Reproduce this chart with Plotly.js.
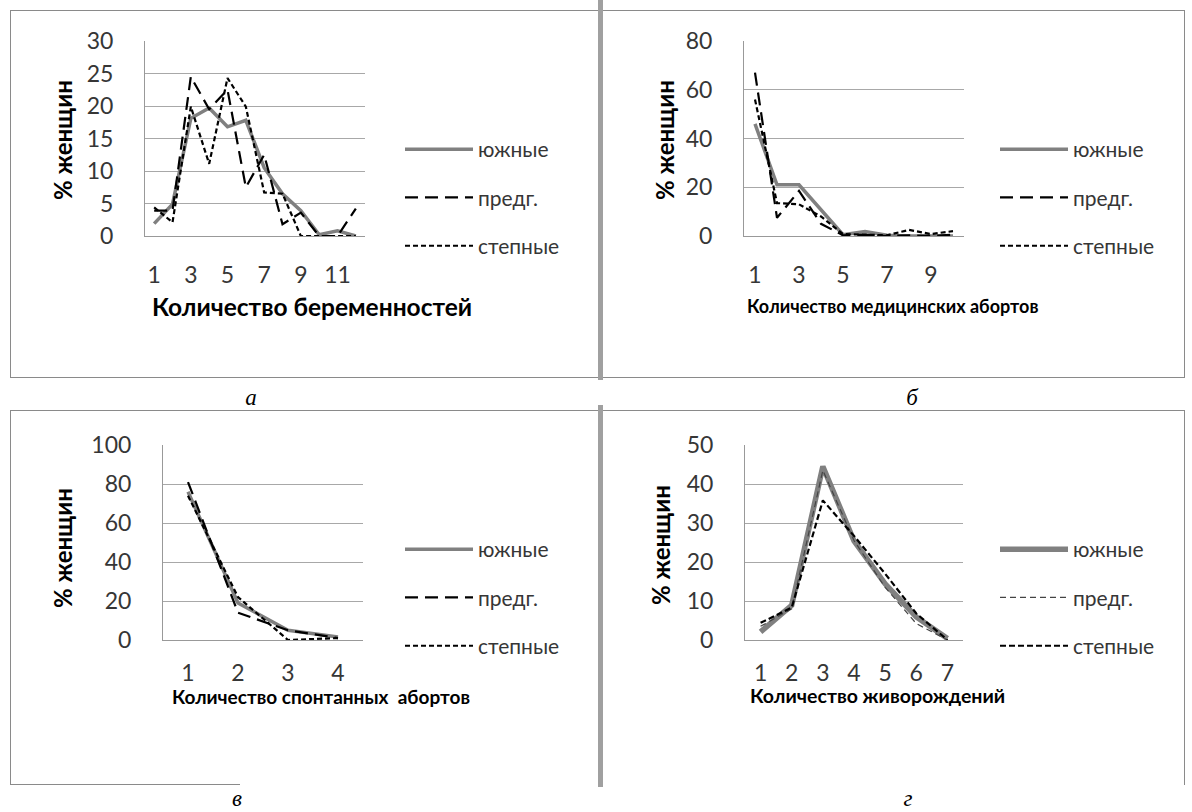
<!DOCTYPE html>
<html><head><meta charset="utf-8">
<script src="https://cdn.plot.ly/plotly-3.0.1.min.js"></script>
<style>
body{margin:0;background:#fff;width:1192px;height:812px;position:relative;overflow:hidden}
.panel{position:absolute}
.ln{position:absolute;background:#8a8a8a}
.lab{position:absolute;font-family:'Liberation Serif',serif;font-style:italic;font-size:23px;line-height:23px;transform:translate(-50%,-50%);color:#000}
</style></head><body>
<div class="ln" style="left:10px;top:10px;width:1px;height:368px"></div>
<div class="ln" style="left:10px;top:10px;width:1175px;height:1px"></div>
<div class="ln" style="left:10px;top:377px;width:1175px;height:1px"></div>
<div class="ln" style="left:1184px;top:10px;width:1px;height:368px"></div>
<div class="ln" style="left:598px;top:0px;width:5px;height:380px;background:#a0a0a0"></div>
<div class="ln" style="left:10px;top:410px;width:1px;height:375px"></div>
<div class="ln" style="left:10px;top:410px;width:1175px;height:1px"></div>
<div class="ln" style="left:10px;top:784px;width:230px;height:1px"></div>
<div class="ln" style="left:1184px;top:410px;width:1px;height:375px"></div>
<div class="ln" style="left:598px;top:405px;width:5px;height:382px;background:#a0a0a0"></div>
<div id="pa" class="panel" style="left:11px;top:11px;width:586px;height:366px"></div>
<div id="pb" class="panel" style="left:604px;top:11px;width:579px;height:366px"></div>
<div id="pc" class="panel" style="left:11px;top:411px;width:586px;height:372px"></div>
<div id="pd" class="panel" style="left:604px;top:411px;width:579px;height:372px"></div>
<div class="lab" style="left:251px;top:397px">а</div>
<div class="lab" style="left:912px;top:397px">б</div>
<div class="lab" style="left:237px;top:798px">в</div>
<div class="lab" style="left:908px;top:798px">г</div>
<script>
// ---- data ----
const seriesNames = ['южные', 'предг.', 'степные'];
const yTitle = '% женщин';

const catA = [1,2,3,4,5,6,7,8,9,10,11,12];
const southA = [1.9, 4.9, 18.1, 19.7, 16.8, 17.8, 10.5, 6.5, 3.9, 0.2, 0.8, 0];
const footA = [3.9, 3.9, 24.5, 19.5, 22.5, 7.5, 12.5, 1.8, 3.6, 0, 0, 4.2];
const steppeA = [4.4, 2.1, 19.9, 11.1, 24.3, 19.9, 6.7, 6.5, 0, 0, 0, 0];
const titleA = 'Количество беременностей';

const catB = [1,2,3,4,5,6,7,8,9,10];
const southB = [46, 21, 21, 11, 0.5, 1.8, 0.3, 0, 0, 0];
const footB = [67, 7.5, 18.5, 5, 0.3, 0.5, 0, 0.3, 0, 0.5];
const steppeB = [56, 13.5, 13, 8, 0.8, 0.5, 0.3, 2.5, 0.8, 2];
const titleB = 'Количество медицинских абортов';

const catV = [1,2,3,4];
const southV = [76, 19, 5, 1.5];
const footV = [81, 14, 5, 1];
const steppeV = [74, 22, 0, 1];
const titleV = 'Количество спонтанных  абортов';

const catG = [1,2,3,4,5,6,7];
const southG = [2.1, 8.9, 44.5, 25.4, 14.4, 5.9, 0.4];
const footG = [3.5, 8, 43.5, 25.5, 13.5, 4.2, 0];
const steppeG = [4.4, 8.3, 35.8, 26.7, 17, 6.8, 0];
const titleG = 'Количество живорождений';

// ---- drawing ----
const FONT = 'Lato, "Open Sans", sans-serif';
const styleStd = [
  {color:'#808080', width:3.5, dash:'solid'},
  {color:'#000000', width:2.2, dash:'13px,7px'},
  {color:'#000000', width:2.2, dash:'5px,3px'}
];
const styleG = [
  {color:'#808080', width:5.5, dash:'solid'},
  {color:'#444444', width:1.2, dash:'6px,4px'},
  {color:'#000000', width:2.2, dash:'6px,3px'}
];

function panel(id, o, cats, series, styles, yMax, yDtick, xDtick, xTitle) {
  const l = o.x0 - o.ox, r = o.ox + o.w - o.x1, t = o.y0 - o.oy, b = o.oy + o.h - o.y1;
  const pw = o.x1 - o.x0, ph = o.y1 - o.y0;
  const px = X => (X - o.x0) / pw;
  const py = Y => (o.y1 - Y) / ph;
  const traces = series.map((s, i) => ({
    x: cats, y: s, type: 'scatter', mode: 'lines', name: seriesNames[i],
    legendgroup: 'g' + i,
    line: {color: styles[i].color, width: styles[i].width, dash: styles[i].dash}
  }));
  const tickFont = {family: FONT, size: 23, color: '#363636'};
  const layout = {
    width: o.w, height: o.h,
    margin: {l: l, r: r, t: t, b: b, pad: 0},
    paper_bgcolor: 'rgba(0,0,0,0)', plot_bgcolor: 'rgba(0,0,0,0)',
    font: {family: FONT, size: 21, color: '#363636'},
    showlegend: true,
    legend: {
      x: px(o.legX), y: py(o.legY), xanchor: 'left', yanchor: 'top',
      traceorder: 'grouped', tracegroupgap: o.legGap, itemwidth: 68,
      font: {family: FONT, size: 21, color: '#363636'}, bgcolor: 'rgba(0,0,0,0)'
    },
    xaxis: {
      range: [0.5, cats.length + 0.5], tickmode: 'linear', tick0: 1, dtick: xDtick,
      showgrid: false, zeroline: false, showline: true, linecolor: '#999999', linewidth: 1,
      ticks: 'outside', ticklen: o.xTickLen, tickcolor: 'rgba(0,0,0,0)',
      tickfont: tickFont, fixedrange: true
    },
    yaxis: {
      range: [0, yMax], tickmode: 'linear', tick0: 0, dtick: yDtick,
      showgrid: true, gridcolor: '#a8a8a8', gridwidth: 1, zeroline: false,
      showline: true, linecolor: '#999999', linewidth: 1,
      ticks: 'outside', ticklen: o.yTickLen, tickcolor: 'rgba(0,0,0,0)',
      tickfont: tickFont, fixedrange: true
    },
    annotations: [
      {text: xTitle, xref: 'paper', yref: 'paper', x: px(o.xtX), y: py(o.xtY),
       xanchor: 'center', yanchor: 'middle', showarrow: false,
       font: {family: FONT, size: o.xtSize, color: '#000', weight: 'bold'}},
      {text: yTitle, xref: 'paper', yref: 'paper', x: px(o.ytX), y: py(o.ytY),
       xanchor: 'center', yanchor: 'middle', showarrow: false, textangle: -90,
       font: {family: FONT, size: 24, color: '#000', weight: 'bold'}}
    ]
  };
  Plotly.newPlot(id, traces, layout, {staticPlot: true, displayModeBar: false});
}

panel('pa', {ox:11, oy:11, w:586, h:366, x0:145, x1:365, y0:41, y1:236,
  legX:400, legY:129, legGap:18, xTickLen:18, yTickLen:26,
  xtX:312, xtY:306, xtSize:24.5, ytX:62, ytY:140},
  catA, [southA, footA, steppeA], styleStd, 30, 5, 2, titleA);

panel('pb', {ox:604, oy:11, w:579, h:366, x0:744, x1:964, y0:41, y1:236,
  legX:995, legY:129, legGap:18, xTickLen:18, yTickLen:26,
  xtX:892, xtY:306, xtSize:18, ytX:664, ytY:140},
  catB, [southB, footB, steppeB], styleStd, 80, 20, 2, titleB);

panel('pc', {ox:11, oy:411, w:586, h:372, x0:163, x1:363, y0:445, y1:640,
  legX:400, legY:529, legGap:18, xTickLen:12, yTickLen:26,
  xtX:321, xtY:696, xtSize:19, ytX:62, ytY:548},
  catV, [southV, footV, steppeV], styleStd, 100, 20, 1, titleV);

panel('pd', {ox:604, oy:411, w:579, h:372, x0:745, x1:963, y0:445, y1:640,
  legX:995, legY:529, legGap:18, xTickLen:12, yTickLen:26,
  xtX:877, xtY:695, xtSize:19.5, ytX:660, ytY:545},
  catG, [southG, footG, steppeG], styleG, 50, 10, 1, titleG);
</script>
</body></html>
